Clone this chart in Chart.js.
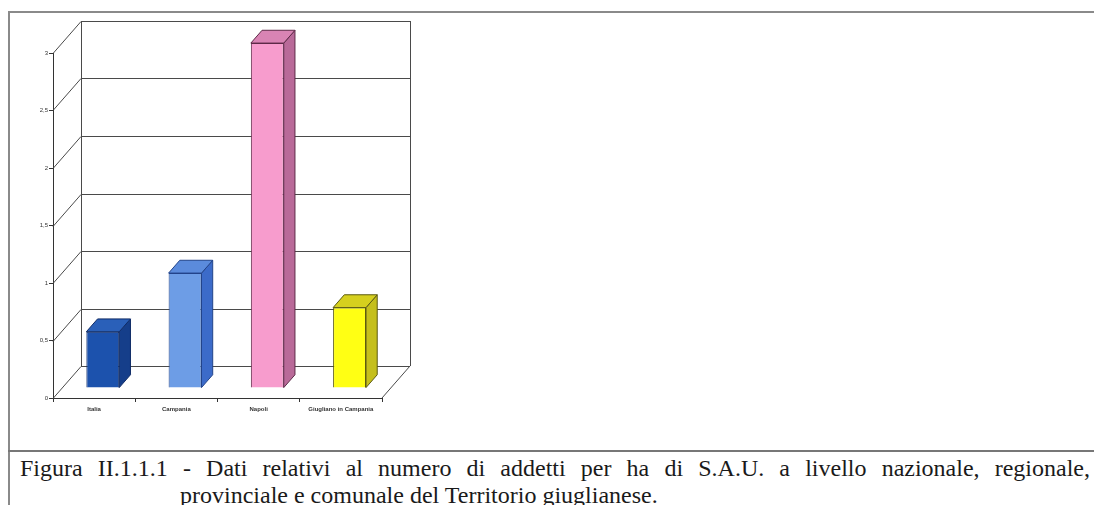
<!DOCTYPE html>
<html lang="it">
<head>
<meta charset="UTF-8">
<script src="https://cdn.jsdelivr.net/npm/chart.js@4.4.1/dist/chart.umd.min.js"></script>
<style>
  html, body { margin: 0; padding: 0; background: #fff; }
  body { width: 1094px; height: 505px; position: relative; overflow: hidden; }
  .frame-top { position: absolute; left: 8px; top: 11px; width: 1086px; height: 0; border-top: 2px solid #8a8a8a; }
  .frame-left { position: absolute; left: 8px; top: 11px; width: 0; height: 494px; border-left: 2px solid #8a8a8a; }
  .sep { position: absolute; left: 8px; top: 450px; width: 1086px; height: 0; border-top: 2px solid #777; }
  #chart { position: absolute; left: 0; top: 0; }
  .caption {
    position: absolute; font-family: "Liberation Serif", "DejaVu Serif", serif;
    font-size: 24px; line-height: 26px; color: #1a1a1a; white-space: nowrap;
  }
  .riga1 { left: 20px; top: 455px; width: 1070px; text-align: justify; text-align-last: justify; white-space: normal; }
  .riga2 { left: 180px; top: 482px; }
</style>
</head>
<body>
<div class="frame-top"></div>
<div class="frame-left"></div>
<canvas id="chart" width="440" height="440"></canvas>
<div class="sep"></div>
<div class="caption riga1">Figura II.1.1.1 - Dati relativi al numero di addetti per ha di S.A.U. a livello nazionale, regionale,</div>
<div class="caption riga2">provinciale e comunale del Territorio giuglianese.</div>

<script>
// dati
const categorie = ['Italia', 'Campania', 'Napoli', 'Giugliano in Campania'];
const addettiPerHa = [0.49, 1.0, 3.0, 0.7];
const yTickLabels = ['0', '0,5', '1', '1,5', '2', '2,5', '3'];

// colori: faccia frontale, lato, sopra, bordo
const coloriFronte = ['#1c52ad', '#6d9de6', '#f79ccd', '#ffff14'];
const coloriLato   = ['#153e8a', '#3c6bc9', '#b96a99', '#c5bf1c'];
const coloriSopra  = ['#2a60b9', '#5b8bdc', '#d984b4', '#d6d01e'];
const coloriBordo  = ['#0e2a66', '#23448a', '#5e2a48', '#5c5a10'];

// profondita' della vista 3D
const DX = 28, DY = -32;
const SHIFT = 0.31, BAR_DEPTH = 0.4;

const effetto3d = {
  id: 'effetto3d',
  beforeDatasetsDraw(chart) {
    const ctx = chart.ctx, a = chart.chartArea, y = chart.scales.y;
    ctx.save();
    ctx.strokeStyle = '#4a4a4a';
    ctx.lineWidth = 1;
    ctx.beginPath();
    y.ticks.forEach(t => {
      const py = Math.round(y.getPixelForValue(t.value)) + 0.5;
      ctx.moveTo(a.left, py);
      ctx.lineTo(a.left + DX, py + DY);
      ctx.lineTo(a.right + DX, py + DY);
    });
    const lx = Math.round(a.left + DX) + 0.5, rx = Math.round(a.right + DX) + 0.5;
    ctx.moveTo(lx, a.top + DY); ctx.lineTo(lx, a.bottom + DY);
    ctx.moveTo(rx, a.top + DY); ctx.lineTo(rx, a.bottom + DY);
    ctx.moveTo(a.right, a.bottom); ctx.lineTo(a.right + DX, a.bottom + DY);
    ctx.stroke();
    ctx.restore();
    ctx.save();
    ctx.translate(DX * SHIFT, DY * SHIFT);
  },
  afterDatasetsDraw(chart) {
    const ctx = chart.ctx;
    const meta = chart.getDatasetMeta(0);
    const bx = DX * BAR_DEPTH, by = DY * BAR_DEPTH;
    meta.data.forEach((bar, i) => {
      const p = bar.getProps(['x', 'y', 'base', 'width'], true);
      const l = p.x - p.width / 2, r = p.x + p.width / 2, top = p.y, bot = p.base;
      ctx.lineWidth = 1;
      ctx.strokeStyle = coloriBordo[i];
      // lato
      ctx.beginPath();
      ctx.moveTo(r, top); ctx.lineTo(r + bx, top + by);
      ctx.lineTo(r + bx, bot + by); ctx.lineTo(r, bot);
      ctx.closePath();
      ctx.fillStyle = coloriLato[i];
      ctx.fill(); ctx.stroke();
      // sopra
      ctx.beginPath();
      ctx.moveTo(l, top); ctx.lineTo(l + bx, top + by);
      ctx.lineTo(r + bx, top + by); ctx.lineTo(r, top);
      ctx.closePath();
      ctx.fillStyle = coloriSopra[i];
      ctx.fill(); ctx.stroke();
    });
    ctx.restore();
  }
};

new Chart(document.getElementById('chart').getContext('2d'), {
  type: 'bar',
  data: {
    labels: categorie,
    datasets: [{
      data: addettiPerHa,
      backgroundColor: coloriFronte,
      borderColor: coloriBordo,
      borderWidth: 1,
      categoryPercentage: 1,
      barPercentage: 0.4
    }]
  },
  options: {
    responsive: false,
    animation: false,
    layout: { padding: { left: 28, right: 58, top: 53, bottom: 22 } },
    plugins: { legend: { display: false }, tooltip: { enabled: false } },
    scales: {
      x: {
        afterFit: s => { s.height = 20; },
        grid: { drawOnChartArea: false, drawTicks: true, tickLength: 4, color: '#333', offset: true },
        border: { color: '#333', width: 1 },
        ticks: { color: '#333', font: { family: 'Liberation Sans', size: 6, weight: 'bold' }, padding: 4, maxRotation: 0, autoSkip: false }
      },
      y: {
        min: 0, max: 3,
        afterFit: s => { s.width = 25; },
        grid: { drawOnChartArea: false, drawTicks: true, tickLength: 4, color: '#333' },
        border: { color: '#333', width: 1 },
        ticks: {
          stepSize: 0.5, color: '#333', padding: 1,
          font: { family: 'Liberation Sans', size: 6 },
          callback: (v, i) => yTickLabels[i]
        }
      }
    }
  },
  plugins: [effetto3d]
});
</script>
</body>
</html>
